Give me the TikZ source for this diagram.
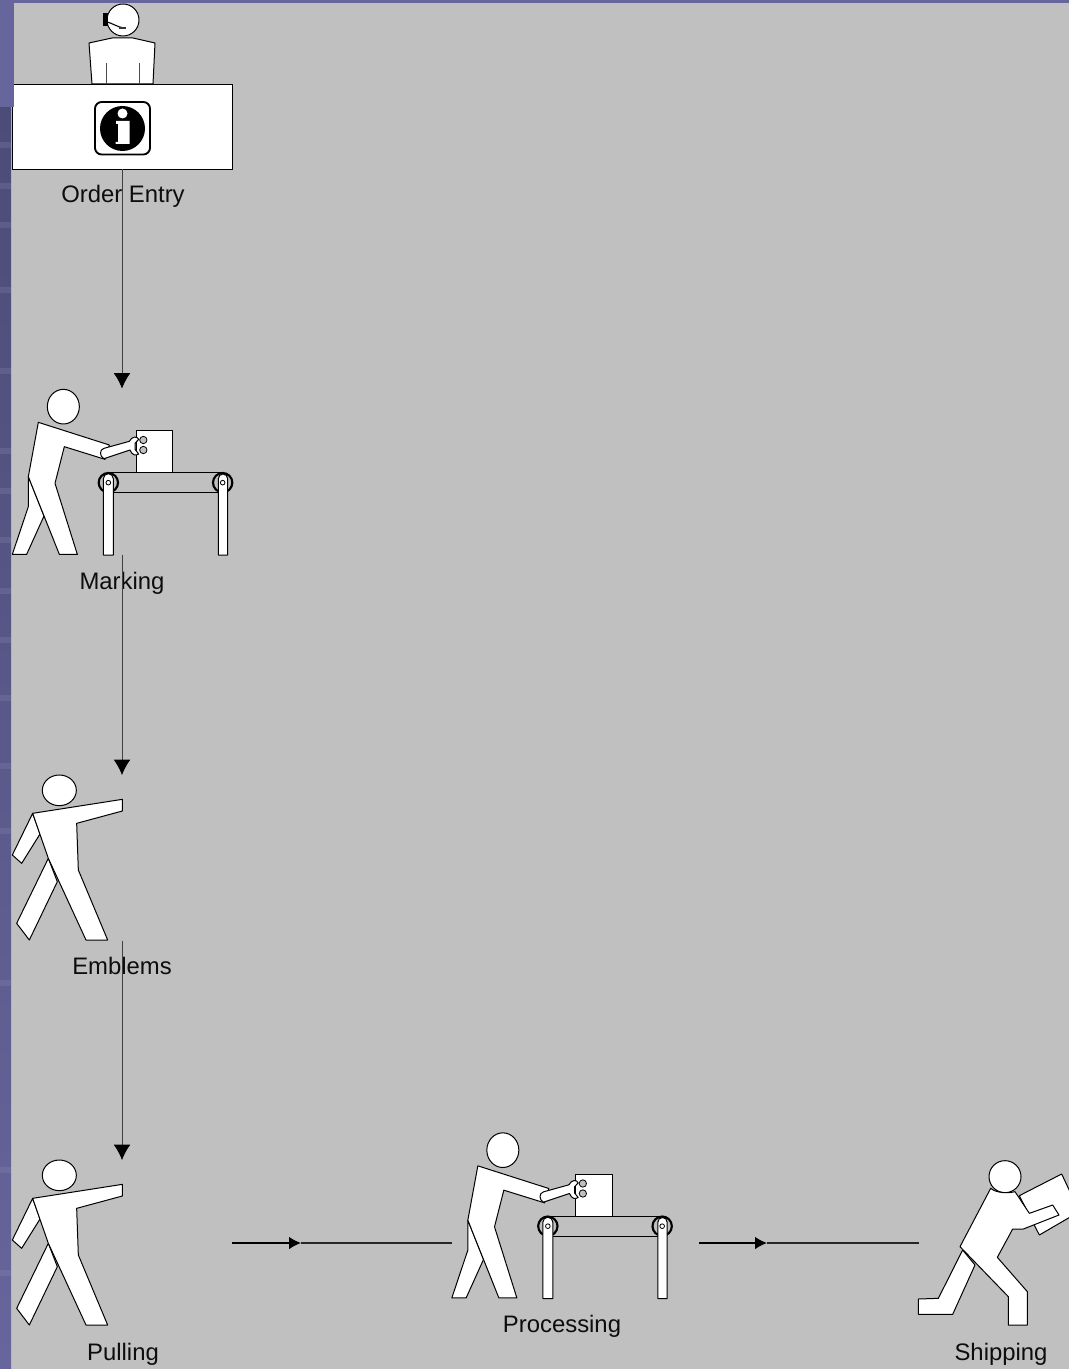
\documentclass[tikz,border=0pt]{standalone}
\usepackage{fontspec}
\setmainfont{Liberation Sans}
\usepackage{xcolor}
\usetikzlibrary{arrows.meta,positioning}

\definecolor{slide}{HTML}{C0C0C0}
\definecolor{stripelt}{HTML}{66669C}
\definecolor{stripedk}{HTML}{4C4C78}

\tikzset{
  outline/.style={draw=black, fill=white, line width=0.75pt, line join=round},
  dot/.style={draw=black, fill=slide, line width=0.6pt},
  %% worker at a conveyor, drawn in thirds of a pixel
  marker/.pic={
    \begin{scope}[scale=1/3]
      \draw[outline] (408,278) rectangle (518,152);
      \draw[line width=0.9pt] (325,278) -- (670,278);
      \draw[line width=0.9pt] (340,338) -- (655,338);
      \draw[dot, line width=1.6pt] (325,308) circle (29);
      \draw[dot, line width=1.6pt] (668,308) circle (29);
      \draw[outline] (310,525) -- (310,296) arc (180:360:15) -- (340,525) -- cycle;
      \draw[outline] (655,525) -- (655,296) arc (180:360:14) -- (683,525) -- cycle;
      \draw[dot, fill=white] (325,308) circle (7);
      \draw[dot, fill=white] (668,308) circle (7);
      \draw[outline] (190,80) ellipse (48 and 52);
      \draw[outline] (85,290) -- (85,380) -- (37,523) -- (80,523) -- (132,408) -- cycle;
      \draw[outline] (115,127) -- (328,195) -- (315,238) -- (193,200) -- (165,310)
        -- (232,523) -- (178,523) -- (85,290) -- cycle;
      \draw[outline] (312,236) .. controls (298,230) and (298,208) .. (312,205)
        -- (388,184) .. controls (396,168) and (412,168) .. (416,178) -- (405,190)
        -- (405,208) -- (416,222) .. controls (408,228) and (396,226) .. (390,210) -- cycle;
      \draw[dot] (430,180) circle (11);
      \draw[dot] (430,210) circle (11);
    \end{scope}
  },
  %% walker pointing ahead
  walker/.pic={
    \begin{scope}[scale=1/3]
      \draw[outline] (178,91) ellipse (51 and 46);
      \draw[outline] (98,160) -- (37,285) -- (65,310) -- (120,222) -- cycle;
      \draw[outline] (145,295) -- (50,490) -- (88,540) -- (172,365) -- cycle;
      \draw[outline] (98,160) -- (367,118) -- (367,153) -- (230,190) -- (235,330)
        -- (323,540) -- (258,540) -- (145,295) -- cycle;
    \end{scope}
  },
}

\begin{document}
\begin{tikzpicture}[x=0.75pt, y=-0.75pt,
  lbl/.style={font=\fontsize{17.9}{20}\selectfont, text=black!95, inner sep=0pt, anchor=base},
  slot/.style={minimum width=165pt, minimum height=124.5pt, inner sep=0pt},
  desk/.style={draw=black, fill=white, line width=0.6pt, minimum width=165pt,
               minimum height=63.75pt, inner sep=0pt},
  arr/.style={-{Latex[length=11.5pt,width=12.5pt,black]}, line width=0.6pt, black!75},
  midarr/.style={-{Latex[length=9pt,width=9.5pt]}, line width=1.1pt, black},
  seg/.style={line width=0.9pt, black!85},
]
  \useasboundingbox (0,0) rectangle (1069,1369);
  %% slide
  \fill[slide] (0,0) rectangle (1069,1369);
  \shade[top color=stripedk, bottom color=stripelt] (0,107) rectangle (11,1369);
  \foreach \y in {142,183,222,287,368,448,488,537,588,637,695,763,828,980,1167,1270}
    \fill[stripelt!70!white, opacity=0.22] (0,\y) rectangle (11,\y+6);

  %% order entry
  \draw[outline] (89,43) -- (112,38) -- (133,38) -- (155,43) -- (153,84) -- (92,84) -- cycle;
  \draw[line width=0.6pt, black!70] (106,63) -- (106,84) (139,63) -- (139,84);
  \draw[outline] (123,20) circle (16);
  \fill[black] (103,13) rectangle (108,26);
  \draw[line width=0.8pt] (107,22) .. controls (112,23) and (117,27) .. (124,28);
  \draw[line width=1.2pt, black!80] (119,28) -- (126,28);
  \node[desk] (entry) at (122,126.5) {};
  \draw[line width=1.4pt, fill=white, rounded corners=5pt] (95,102) rectangle (150,154.5);
  \fill[black] (122.5,128.5) circle (22.5);
  \fill[white] (122.5,113.5) circle (5);
  \fill[white] (116,121) -- (129.5,121) -- (129.5,144) -- (115.5,144) -- (115.5,142) -- (118,142) -- (118,124) -- (116,124) -- cycle;
  \fill[stripelt] (0,0) rectangle (14,107);
  \fill[stripelt] (0,0) rectangle (1069,3);
  \node[lbl] (entrytxt) at (123,203) {Order Entry};

  %% marking
  \node[slot] (marking) at (122,471.5) {};
  \pic at (0,380) {marker};
  \node[lbl] (markingtxt) at (122,589) {Marking};

  %% emblems
  \node[slot] (emblems) at (122,857.5) {};
  \pic at (0,760) {walker};
  \node[lbl] (emblemstxt) at (122,974.5) {Emblems};

  %% pulling
  \node[slot] (pulling) at (122,1243) {};
  \pic at (0,1145) {walker};
  \node[lbl] (pullingtxt) at (123,1360) {Pulling};

  %% processing
  \node[slot] (processing) at (562,1215.5) {};
  \pic at (439.5,1123.5) {marker};
  \node[lbl] (processingtxt) at (562,1332) {Processing};

  %% shipping
  \node[slot, minimum width=112.5pt] (shipping) at (994,1243) {};
  \begin{scope}[shift={(900,1150)}, scale=1/3]
    \draw[outline] (358,137) -- (485,72) -- (538,185) -- (418,255) -- cycle;
    \draw[outline] (315,80) circle (48);
    \draw[outline] (188,300) -- (115,445) -- (55,447) -- (55,493) -- (158,493) -- (225,345) -- cycle;
    \draw[outline] (272,115) -- (180,290) -- (325,440) -- (325,525) -- (382,525) -- (382,425)
      -- (292,322) -- (338,237) -- (370,237) -- (477,195) -- (458,165) -- (388,190) -- (345,125)
      .. controls (325,130) and (290,130) .. (272,115) -- cycle;
  \end{scope}
  \node[lbl] (shippingtxt) at (1001,1360) {Shipping};

  %% flow
  \coordinate (markingin) at (122,388.5);
  \coordinate (emblemsin) at (122,775);
  \coordinate (pullingin) at (122,1160);
  \coordinate (pullmid) at (301,1243);
  \coordinate (procmid) at (767,1243);
  \coordinate (procout) at (699,1243);
  \draw[arr] (entry.south) -- (markingin);
  \draw[arr] (marking.south) -- (emblemsin);
  \draw[arr] (emblems.south) -- (pullingin);
  \draw[midarr] (pulling.east) -- (pullmid);
  \draw[seg] (pullmid) -- (pulling.east -| processing.west);
  \draw[midarr] (procout) -- (procmid);
  \draw[seg] (procmid) -- (shipping.west);
\end{tikzpicture}
\end{document}
